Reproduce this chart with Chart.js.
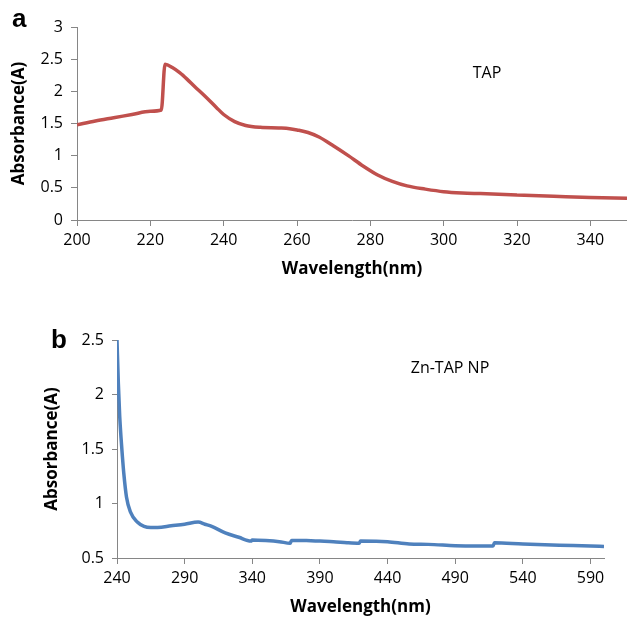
<!DOCTYPE html>
<html>
<head>
<meta charset="utf-8">
<script src="https://cdn.jsdelivr.net/npm/chart.js@4.4.1/dist/chart.umd.min.js"></script>
<style>
  body { margin: 0; background: #fff; width: 627px; height: 617px; position: relative; overflow: hidden; }
  canvas { position: absolute; left: 0; }
  #chartA { top: 0; }
  #chartB { top: 282px; }
  .panel { position: absolute; font: bold 26px 'Liberation Sans', Arial, sans-serif; color: #000; line-height: 1; }
  .note { position: absolute; font: 16px 'Open Sans', sans-serif; color: #000; line-height: 1; transform: translate(-50%, -50%); white-space: nowrap; }
</style>
</head>
<body>
<canvas id="chartA" width="627" height="282"></canvas>
<canvas id="chartB" width="627" height="335"></canvas>
<div class="panel" style="left:12px;top:5px">a</div>
<div class="panel" style="left:51px;top:326px">b</div>
<div class="note" style="left:487px;top:72px">TAP</div>
<div class="note" style="left:450px;top:367px">Zn-TAP NP</div>
<script>
// ---- panel a: TAP ----
const wavelengthA = [200, 205, 210, 215, 220, 223, 224, 226, 228, 230, 232, 235, 238, 240, 243, 246, 250, 255, 258, 260,
  263, 266, 270, 274, 278, 282, 286, 290, 295, 300, 305, 310, 320, 330, 340, 350];
const absorbanceA = [1.48, 1.54, 1.59, 1.64, 1.69, 1.71, 2.42, 2.37, 2.29, 2.19, 2.08, 1.92, 1.75, 1.64, 1.53, 1.47, 1.44, 1.43, 1.42, 1.40,
  1.36, 1.29, 1.15, 1.00, 0.84, 0.70, 0.60, 0.53, 0.48, 0.44, 0.42, 0.41, 0.39, 0.37, 0.35, 0.34];
const xTicksA = [200, 220, 240, 260, 280, 300, 320, 340];
const yTicksA = [0, 0.5, 1, 1.5, 2, 2.5, 3];

// ---- panel b: Zn-TAP NP ----
const wavelengthB = [240, 241, 242, 243, 244, 245, 247, 250, 255, 260, 265, 270, 280, 290, 300, 305, 310, 320, 330, 339,
  340, 350, 360, 368, 369, 380, 390, 400, 410, 419, 420, 440, 456, 470, 490, 505, 518, 519, 540, 567, 590, 600];
const absorbanceB = [2.5, 2.1, 1.8, 1.6, 1.43, 1.28, 1.06, 0.92, 0.83, 0.79, 0.78, 0.78, 0.795, 0.81, 0.83, 0.81, 0.79, 0.73, 0.69, 0.655,
  0.665, 0.66, 0.65, 0.635, 0.66, 0.66, 0.655, 0.65, 0.64, 0.635, 0.655, 0.65, 0.628, 0.625, 0.613, 0.61, 0.61, 0.64, 0.628, 0.617, 0.61, 0.605];
const xTicksB = [240, 290, 340, 390, 440, 490, 540, 590];
const yTicksB = [0.5, 1, 1.5, 2, 2.5];

Chart.defaults.font.family = "'Open Sans', sans-serif";
Chart.defaults.color = '#000';

const axisGray = '#868686';
const tickFont = { size: 16 };
const titleFont = { size: 17, weight: 'bold' };

function xAxis(ticks, min, max, height, titlePad) {
  return {
    type: 'linear', min, max,
    afterBuildTicks: ax => { ax.ticks = ticks.map(v => ({ value: v })); },
    afterFit: ax => { ax.height = height; },
    border: { color: axisGray, width: 1 },
    grid: { drawOnChartArea: false, color: axisGray, tickLength: 6 },
    ticks: { font: tickFont, padding: 5, maxRotation: 0, autoSkip: false, callback: v => String(v) },
    title: { display: true, text: 'Wavelength(nm)', font: titleFont, padding: { top: 0, bottom: titlePad } }
  };
}

function yAxis(ticks, min, max, width, titlePad, tickLen) {
  return {
    min, max,
    afterBuildTicks: ax => { ax.ticks = ticks.map(v => ({ value: v })); },
    afterFit: ax => { ax.width = width; },
    border: { color: axisGray, width: 1 },
    grid: { drawOnChartArea: false, color: axisGray, tickLength: tickLen },
    ticks: { font: tickFont, padding: 8, autoSkip: false, callback: v => String(v) },
    title: { display: true, text: 'Absorbance(A)', font: titleFont, padding: { top: titlePad, bottom: 0 } }
  };
}

function makeChart(id, xs, ys, color, scales, padding) {
  new Chart(document.getElementById(id), {
    type: 'line',
    data: {
      datasets: [{
        data: xs.map((x, i) => ({ x, y: ys[i] })),
        borderColor: color,
        borderWidth: 3.5,
        pointRadius: 0,
        cubicInterpolationMode: 'monotone',
        fill: false
      }]
    },
    options: {
      responsive: false,
      animation: false,
      layout: { padding },
      plugins: { legend: { display: false }, tooltip: { enabled: false } },
      scales
    }
  });
}

makeChart('chartA', wavelengthA, absorbanceA, '#C0504D',
  { x: xAxis(xTicksA, 200, 350, 62, 3), y: yAxis(yTicksA, 0, 3, 77, 9, 6) },
  { top: 27, right: 0, left: 0, bottom: 0 });

makeChart('chartB', wavelengthB, absorbanceB, '#4F81BD',
  { x: xAxis(xTicksB, 240, 600, 59, 0), y: yAxis(yTicksB, 0.5, 2.5, 117, 42, 5) },
  { top: 58, right: 23, left: 0, bottom: 0 });
</script>
</body>
</html>
